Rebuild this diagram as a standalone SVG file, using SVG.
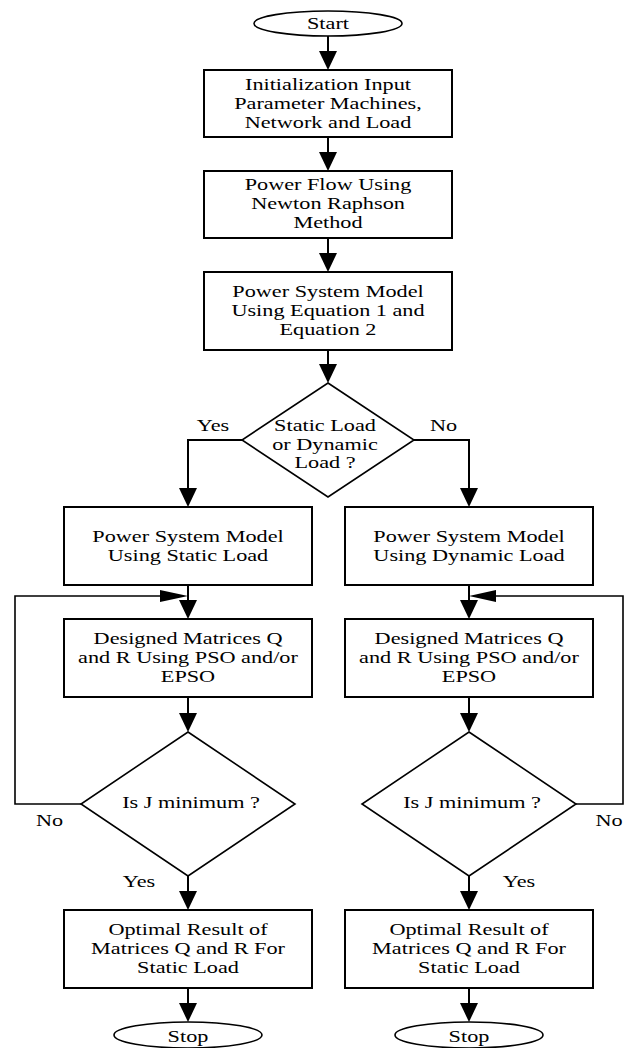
<svg xmlns="http://www.w3.org/2000/svg" width="626" height="1048" viewBox="0 0 626 1048">
<style>
  .box{fill:#fff;stroke:#000;stroke-width:2}
  .dia{fill:#fff;stroke:#000;stroke-width:1.6}
  .ell{fill:#fff;stroke:#000;stroke-width:1.6}
  .ln{fill:none;stroke:#000;stroke-width:2}
  .loop{fill:none;stroke:#000;stroke-width:1.6}
  .ah{fill:#000;stroke:none}
  text{font-family:"Liberation Serif","Times New Roman",serif;font-size:17.5px;fill:#000;text-anchor:middle}
</style>
<rect width="626" height="1048" fill="#fff"/>
<g id="connectors">
  <line class="ln" x1="328" y1="36" x2="328" y2="52"/>
  <polygon class="ah" points="319,51 337,51 328,70"/>
  <line class="ln" x1="328" y1="137" x2="328" y2="153"/>
  <polygon class="ah" points="319,152 337,152 328,171"/>
  <line class="ln" x1="328" y1="238" x2="328" y2="254"/>
  <polygon class="ah" points="319,253 337,253 328,272"/>
  <line class="ln" x1="328" y1="350" x2="328" y2="365"/>
  <polygon class="ah" points="319,364 337,364 328,383"/>
  <polyline class="ln" points="242,440 188,440 188,489"/>
  <polygon class="ah" points="179,488 197,488 188,507"/>
  <polyline class="ln" points="414,440 469,440 469,489"/>
  <polygon class="ah" points="460,488 478,488 469,507"/>
  <line class="ln" x1="188" y1="585" x2="188" y2="601"/>
  <polygon class="ah" points="179,600 197,600 188,619"/>
  <line class="ln" x1="469" y1="585" x2="469" y2="601"/>
  <polygon class="ah" points="460,600 478,600 469,619"/>
  <line class="ln" x1="188" y1="697" x2="188" y2="714"/>
  <polygon class="ah" points="179,713 197,713 188,732"/>
  <line class="ln" x1="469" y1="697" x2="469" y2="714"/>
  <polygon class="ah" points="460,713 478,713 469,732"/>
  <line class="ln" x1="188" y1="876" x2="188" y2="892"/>
  <polygon class="ah" points="179,891 197,891 188,910"/>
  <line class="ln" x1="469" y1="876" x2="469" y2="892"/>
  <polygon class="ah" points="460,891 478,891 469,910"/>
  <line class="ln" x1="188" y1="988" x2="188" y2="1004"/>
  <polygon class="ah" points="179,1003 197,1003 188,1022"/>
  <line class="ln" x1="469" y1="988" x2="469" y2="1004"/>
  <polygon class="ah" points="460,1003 478,1003 469,1022"/>
  <polyline class="loop" points="81,804 15,804 15,596 161,596"/>
  <polygon class="ah" points="160,590 160,602 188,596"/>
  <polyline class="loop" points="576,804 623,804 623,596 495,596"/>
  <polygon class="ah" points="496,590 496,602 469,596"/>
  <g transform="matrix(1.27 0 0 1 213 0)"><text y="431">Yes</text></g>
  <g transform="matrix(1.27 0 0 1 443.5 0)"><text y="431">No</text></g>
  <g transform="matrix(1.27 0 0 1 49.5 0)"><text y="826">No</text></g>
  <g transform="matrix(1.27 0 0 1 609 0)"><text y="826">No</text></g>
  <g transform="matrix(1.27 0 0 1 139 0)"><text y="887">Yes</text></g>
  <g transform="matrix(1.27 0 0 1 519 0)"><text y="887">Yes</text></g>
</g>
<g id="start">
  <ellipse class="ell" cx="328" cy="23.5" rx="74" ry="12.5"/>
  <g transform="matrix(1.27 0 0 1 328 0)"><text y="29">Start</text></g>
</g>
<g id="init">
  <rect class="box" x="204" y="70" width="248" height="67"/>
  <g transform="matrix(1.27 0 0 1 328 0)">
    <text y="90.5">Initialization Input</text>
    <text y="109.5">Parameter Machines,</text>
    <text y="128.5">Network and Load</text>
  </g>
</g>
<g id="powerflow">
  <rect class="box" x="204" y="171" width="248" height="67"/>
  <g transform="matrix(1.27 0 0 1 328 0)">
    <text y="190">Power Flow Using</text>
    <text y="209">Newton Raphson</text>
    <text y="228">Method</text>
  </g>
</g>
<g id="model">
  <rect class="box" x="204" y="272" width="248" height="78"/>
  <g transform="matrix(1.27 0 0 1 328 0)">
    <text y="297">Power System Model</text>
    <text y="316">Using Equation 1 and</text>
    <text y="335">Equation 2</text>
  </g>
</g>
<g id="loadtype">
  <polygon class="dia" points="328,383 414,440 328,497 242,440"/>
  <g transform="matrix(1.27 0 0 1 325 0)">
    <text y="431">Static Load</text>
    <text y="450">or Dynamic</text>
    <text y="468.5">Load ?</text>
  </g>
</g>
<g id="static-model">
  <rect class="box" x="64" y="507" width="248" height="78"/>
  <g transform="matrix(1.27 0 0 1 188 0)">
    <text y="542">Power System Model</text>
    <text y="561">Using Static Load</text>
  </g>
</g>
<g id="dynamic-model">
  <rect class="box" x="345" y="507" width="248" height="78"/>
  <g transform="matrix(1.27 0 0 1 469 0)">
    <text y="542">Power System Model</text>
    <text y="561">Using Dynamic Load</text>
  </g>
</g>
<g id="design-left">
  <rect class="box" x="64" y="619" width="248" height="78"/>
  <g transform="matrix(1.27 0 0 1 188 0)">
    <text y="644">Designed Matrices Q</text>
    <text y="663">and R Using PSO and/or</text>
    <text y="682">EPSO</text>
  </g>
</g>
<g id="design-right">
  <rect class="box" x="345" y="619" width="248" height="78"/>
  <g transform="matrix(1.27 0 0 1 469 0)">
    <text y="644">Designed Matrices Q</text>
    <text y="663">and R Using PSO and/or</text>
    <text y="682">EPSO</text>
  </g>
</g>
<g id="jmin-left">
  <polygon class="dia" points="188,732 295,804 188,876 81,804"/>
  <g transform="matrix(1.27 0 0 1 191 0)"><text y="808.5">Is J minimum ?</text></g>
</g>
<g id="jmin-right">
  <polygon class="dia" points="469,732 576,804 469,876 362,804"/>
  <g transform="matrix(1.27 0 0 1 472 0)"><text y="808.5">Is J minimum ?</text></g>
</g>
<g id="result-left">
  <rect class="box" x="64" y="910" width="248" height="78"/>
  <g transform="matrix(1.27 0 0 1 188 0)">
    <text y="935">Optimal Result of</text>
    <text y="954">Matrices Q and R For</text>
    <text y="973">Static Load</text>
  </g>
</g>
<g id="result-right">
  <rect class="box" x="345" y="910" width="248" height="78"/>
  <g transform="matrix(1.27 0 0 1 469 0)">
    <text y="935">Optimal Result of</text>
    <text y="954">Matrices Q and R For</text>
    <text y="973">Static Load</text>
  </g>
</g>
<g id="stop-left">
  <ellipse class="ell" cx="188" cy="1035" rx="74" ry="13"/>
  <g transform="matrix(1.27 0 0 1 188 0)"><text y="1042">Stop</text></g>
</g>
<g id="stop-right">
  <ellipse class="ell" cx="469" cy="1035" rx="74" ry="13"/>
  <g transform="matrix(1.27 0 0 1 469 0)"><text y="1042">Stop</text></g>
</g>
</svg>
